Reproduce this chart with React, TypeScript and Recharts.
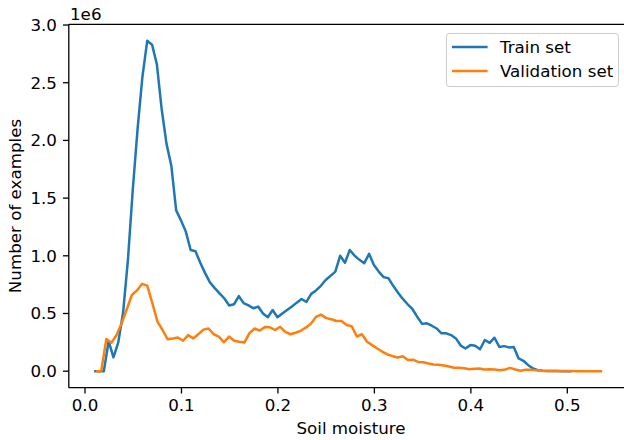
import React from 'react';
import { LineChart, Line, XAxis, YAxis, Label, ReferenceLine } from 'recharts';

// Soil moisture bin positions (train set histogram)
const trainX = [
  0.0095, 0.0145, 0.0195, 0.0245, 0.0295, 0.0345, 0.0395, 0.0445, 0.0495, 0.0545,
  0.0595, 0.0645, 0.0695, 0.0745, 0.0795, 0.0845, 0.0895, 0.0945, 0.0995, 0.1045,
  0.1095, 0.1145, 0.1195, 0.1245, 0.1295, 0.1345, 0.1395, 0.1445, 0.1495, 0.1545,
  0.1595, 0.1645, 0.1695, 0.1745, 0.1795, 0.1845, 0.1895, 0.1945, 0.1995, 0.2045,
  0.2095, 0.2145, 0.2195, 0.2245, 0.2295, 0.2345, 0.2395, 0.2445, 0.2495, 0.2545,
  0.2595, 0.2645, 0.2695, 0.2745, 0.2795, 0.2845, 0.2895, 0.2945, 0.2995, 0.3045,
  0.3095, 0.3145, 0.3195, 0.3245, 0.3295, 0.3345, 0.3395, 0.3445, 0.3495, 0.3545,
  0.3595, 0.3645, 0.3695, 0.3745, 0.3795, 0.3845, 0.3895, 0.3945, 0.3995, 0.4045,
  0.4095, 0.4145, 0.4195, 0.4245, 0.4295, 0.4345, 0.4395, 0.4445, 0.4495, 0.4545,
  0.4595, 0.4645, 0.4695, 0.4745, 0.4795, 0.4845, 0.4895, 0.4945, 0.4995, 0.5045,
];

// Number of examples (x 1e6), train set
const trainCount = [
  0, 0, 0, 0.26, 0.12, 0.25, 0.51, 0.965, 1.57, 2.1,
  2.55, 2.863, 2.83, 2.66, 2.27, 1.97, 1.78, 1.394, 1.307, 1.21,
  1.05, 1.04, 0.94, 0.85, 0.77, 0.72, 0.675, 0.63, 0.57, 0.58,
  0.65, 0.59, 0.57, 0.545, 0.56, 0.5, 0.467, 0.53, 0.467, 0.5,
  0.53, 0.56, 0.594, 0.626, 0.6, 0.67, 0.7, 0.74, 0.79, 0.826,
  0.863, 1.0, 0.94, 1.05, 1.0, 0.965, 0.936, 1.017, 0.92, 0.863,
  0.815, 0.806, 0.74, 0.68, 0.626, 0.58, 0.537, 0.47, 0.41, 0.415,
  0.394, 0.37, 0.328, 0.328, 0.313, 0.284, 0.222, 0.197, 0.226, 0.22,
  0.19, 0.27, 0.246, 0.29, 0.21, 0.217, 0.206, 0.21, 0.11, 0.09,
  0.052, 0.023, 0.009, 0.003, 0.002, 0.001, 0.001, 0, 0, 0,
];

// Soil moisture bin positions (validation set histogram)
const valX = [
  0.0115, 0.0168, 0.0221, 0.0274, 0.0327, 0.038, 0.0433, 0.0486, 0.0539, 0.0592,
  0.0645, 0.0698, 0.0751, 0.0804, 0.0857, 0.091, 0.0963, 0.1016, 0.1069, 0.1122,
  0.1175, 0.1228, 0.1281, 0.1334, 0.1387, 0.144, 0.1493, 0.1546, 0.1599, 0.1652,
  0.1705, 0.1758, 0.1811, 0.1864, 0.1917, 0.197, 0.2023, 0.2076, 0.2129, 0.2182,
  0.2235, 0.2288, 0.2341, 0.2394, 0.2447, 0.25, 0.2553, 0.2606, 0.2659, 0.2712,
  0.2765, 0.2818, 0.2871, 0.2924, 0.2977, 0.303, 0.3083, 0.3136, 0.3189, 0.3242,
  0.3295, 0.3348, 0.3401, 0.3454, 0.3507, 0.356, 0.3613, 0.3666, 0.3719, 0.3772,
  0.3825, 0.3878, 0.3931, 0.3984, 0.4037, 0.409, 0.4143, 0.4196, 0.4249, 0.4302,
  0.4355, 0.4408, 0.4461, 0.4514, 0.4567, 0.462, 0.4673, 0.4726, 0.4779, 0.4832,
  0.4885, 0.4938, 0.4991, 0.5044, 0.5097, 0.515, 0.5203, 0.5256, 0.5309, 0.5362,
];

// Number of examples (x 1e6), validation set
const valCount = [
  0, 0, 0.278, 0.246, 0.313, 0.415, 0.537, 0.66, 0.7, 0.757,
  0.742, 0.59, 0.43, 0.357, 0.276, 0.284, 0.292, 0.264, 0.313, 0.284,
  0.32, 0.36, 0.37, 0.32, 0.3, 0.25, 0.3, 0.264, 0.255, 0.248,
  0.33, 0.37, 0.352, 0.382, 0.38, 0.357, 0.385, 0.34, 0.32, 0.333,
  0.35, 0.377, 0.41, 0.47, 0.49, 0.46, 0.45, 0.435, 0.435, 0.4,
  0.39, 0.3, 0.32, 0.255, 0.226, 0.197, 0.168, 0.145, 0.13, 0.119,
  0.13, 0.096, 0.1, 0.08, 0.078, 0.067, 0.058, 0.055, 0.05, 0.04,
  0.029, 0.029, 0.025, 0.017, 0.02, 0.023, 0.015, 0.017, 0.014, 0.009,
  0.015, 0.029, 0.015, 0.003, 0.012, 0.012, 0.009, 0.003, 0.002, 0.002,
  0.001, 0.001, 0.001, 0.001, 0, 0, 0, 0, 0, 0,
];

const xTicks = [0, 0.1, 0.2, 0.3, 0.4, 0.5];
const yTicks = [0, 0.5, 1.0, 1.5, 2.0, 2.5, 3.0];
const seriesNames = ['Train set', 'Validation set'];
const seriesColors = ['#1f77b4', '#ff7f0e'];

const trainData = trainX.map((x, i) => ({ x, y: trainCount[i] }));
const valData = valX.map((x, i) => ({ x, y: valCount[i] }));

const X_DOMAIN: [number, number] = [-0.0168, 0.5625];
const Y_DOMAIN: [number, number] = [-0.1432, 3.0064];

const FONT = 'DejaVu Sans, sans-serif';
const FS = 16.7;

const LegendBox = () => (
  <div
    style={{
      position: 'absolute',
      left: 446,
      top: 32.7,
      width: 173.3,
      height: 54.6,
      boxSizing: 'border-box',
      border: '1.3px solid #cccccc',
      borderRadius: 3.3,
      background: 'rgba(255,255,255,0.8)',
      fontFamily: FONT,
      fontSize: FS,
      color: '#000',
    }}
  >
    {seriesNames.map((name, i) => (
      <div key={name} style={{ position: 'absolute', left: 0, top: 1 + i * 24, height: 24, width: '100%' }}>
        <svg width={40} height={24} style={{ position: 'absolute', left: 4.4, top: 0 }}>
          <line x1={1} y1={12} x2={36.6} y2={12} stroke={seriesColors[i]} strokeWidth={2.5} />
        </svg>
        <span style={{ position: 'absolute', left: 53, top: 0, lineHeight: '24px', whiteSpace: 'nowrap' }}>{name}</span>
      </div>
    ))}
  </div>
);

export default function App() {
  return (
    <div style={{ position: 'absolute', left: 0, top: 0, width: 624, height: 440, overflow: 'hidden', background: '#fff' }}>
      <LineChart width={640} height={440} margin={{ top: 24.3, right: 12.4, bottom: 0, left: 0 }}>
        <XAxis
          dataKey="x"
          type="number"
          domain={X_DOMAIN}
          ticks={xTicks}
          allowDataOverflow
          height={52.3}
          tickSize={5.8}
          tickMargin={6}
          axisLine={{ stroke: '#000', strokeWidth: 1.3 }}
          tickLine={{ stroke: '#000', strokeWidth: 1.3 }}
          tick={{ fill: '#000', fontSize: FS, fontFamily: FONT }}
          tickFormatter={(v: number) => v.toFixed(1)}
        >
          <Label
            content={() => (
              <text x={351} y={434} textAnchor="middle" fill="#000" fontSize={FS} fontFamily={FONT}>
                Soil moisture
              </text>
            )}
          />
        </XAxis>
        <YAxis
          type="number"
          domain={Y_DOMAIN}
          ticks={yTicks}
          allowDataOverflow
          width={68.8}
          tickSize={5.8}
          tickMargin={6}
          axisLine={{ stroke: '#000', strokeWidth: 1.3 }}
          tickLine={{ stroke: '#000', strokeWidth: 1.3 }}
          tick={{ fill: '#000', fontSize: FS, fontFamily: FONT }}
          tickFormatter={(v: number) => v.toFixed(1)}
        >
          <Label
            content={() => (
              <g>
                <text
                  x={21}
                  y={206}
                  transform="rotate(-90 21 206)"
                  textAnchor="middle"
                  fill="#000"
                  fontSize={FS}
                  fontFamily={FONT}
                >
                  Number of examples
                </text>
                <text x={70} y={20} fill="#000" fontSize={FS} fontFamily={FONT}>
                  1e6
                </text>
              </g>
            )}
          />
        </YAxis>
        <ReferenceLine y={Y_DOMAIN[1]} stroke="#000" strokeWidth={1.3} />
        <Line
          data={trainData}
          dataKey="y"
          name={seriesNames[0]}
          stroke={seriesColors[0]}
          strokeWidth={2.5}
          dot={false}
          isAnimationActive={false}
          strokeLinejoin="round"
        />
        <Line
          data={valData}
          dataKey="y"
          name={seriesNames[1]}
          stroke={seriesColors[1]}
          strokeWidth={2.5}
          dot={false}
          isAnimationActive={false}
          strokeLinejoin="round"
        />
      </LineChart>
      <LegendBox />
    </div>
  );
}
